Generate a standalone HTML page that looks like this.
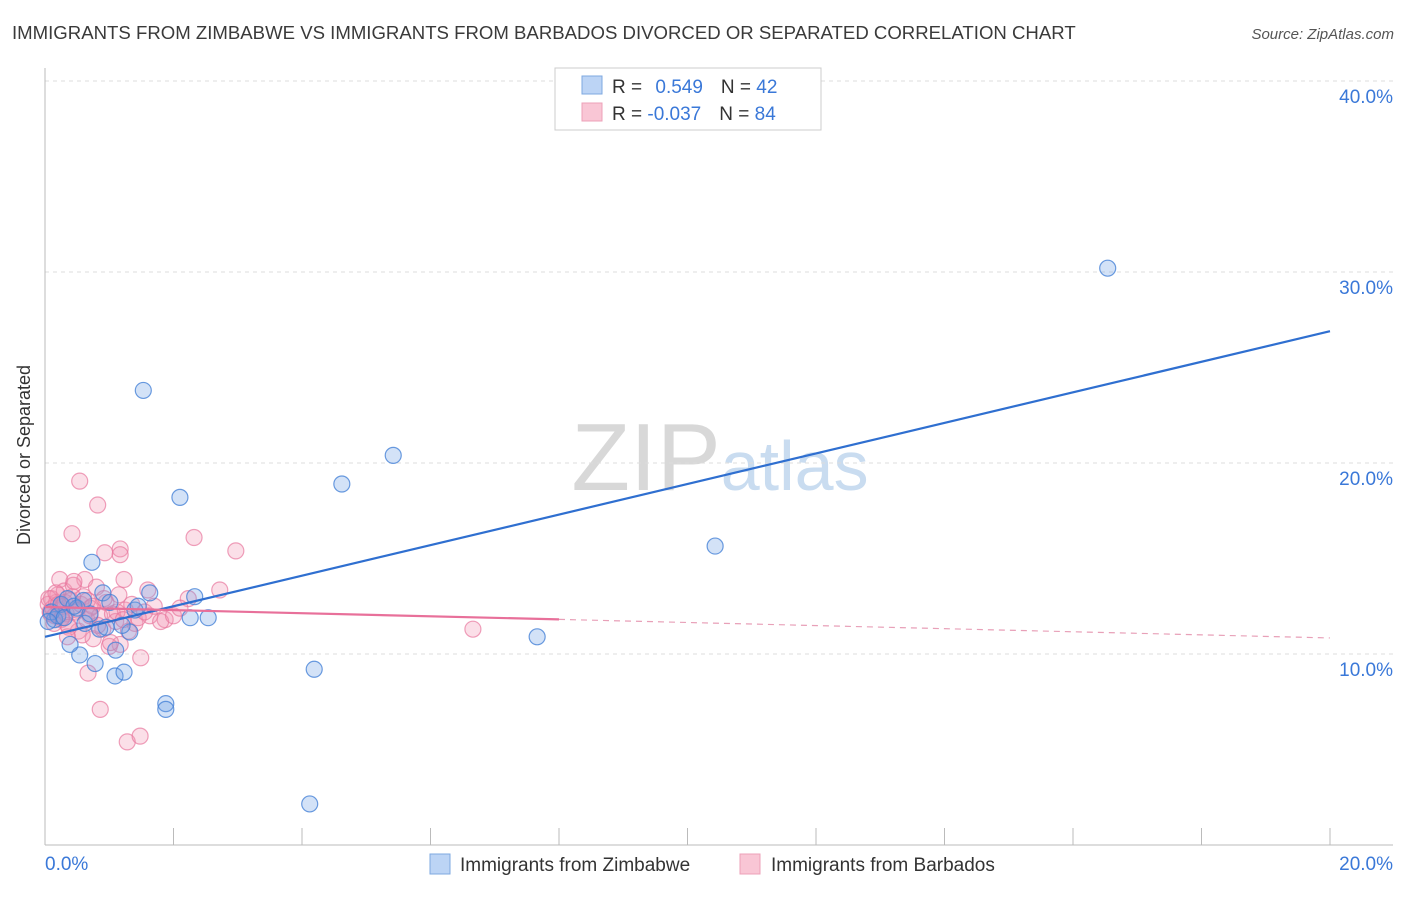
<!DOCTYPE html>
<html><head><meta charset="utf-8"><style>
body{margin:0;background:#fff;font-family:"Liberation Sans",sans-serif;}
svg text{font-family:"Liberation Sans",sans-serif;}
</style></head><body>
<svg width="1406" height="892">
<text x="12" y="39" font-size="18.6" fill="#3a3a3a">IMMIGRANTS FROM ZIMBABWE VS IMMIGRANTS FROM BARBADOS DIVORCED OR SEPARATED CORRELATION CHART</text>
<text x="1394" y="39" font-size="15" fill="#555" text-anchor="end" font-style="italic">Source: ZipAtlas.com</text>
<text x="720" y="490" font-size="96" fill="#ddd" text-anchor="middle" font-family="Liberation Serif"><tspan fill="#d8d8d8">ZIP</tspan><tspan fill="#c9dcf0" font-family="Liberation Sans" font-size="70">atlas</tspan></text>
<g id="grid"></g>
<line x1="45" y1="68" x2="45" y2="845" stroke="#bbb"/>
<line x1="45" y1="845" x2="1393" y2="845" stroke="#bbb"/>
<text x="30" y="455" font-size="18" fill="#333" text-anchor="middle" transform="rotate(-90 30 455)">Divorced or Separated</text>
<text x="45" y="870" font-size="19" fill="#3a78d8">0.0%</text>
<text x="1393" y="870" font-size="19" fill="#3a78d8" text-anchor="end">20.0%</text>
<g id="marks"></g>
<g>
<rect x="555" y="68" width="266" height="62" fill="#fff" stroke="#ccc"/>
<rect x="582" y="76" width="20" height="18" fill="#bcd4f5" stroke="#7ea8e0"/>
<rect x="582" y="103" width="20" height="18" fill="#f9c6d5" stroke="#eda0b8"/>
<text x="612" y="93" font-size="19" fill="#333">R = <tspan fill="#3a78d8" dx="8">0.549</tspan><tspan dx="18">N = </tspan><tspan fill="#3a78d8">42</tspan></text>
<text x="612" y="120" font-size="19" fill="#333">R = <tspan fill="#3a78d8">-0.037</tspan><tspan dx="18">N = </tspan><tspan fill="#3a78d8">84</tspan></text>
</g>
<g>
<rect x="430" y="854" width="20" height="20" fill="#bcd4f5" stroke="#7ea8e0"/>
<text x="460" y="871" font-size="19" fill="#333">Immigrants from Zimbabwe</text>
<rect x="740" y="854" width="20" height="20" fill="#f9c6d5" stroke="#eda0b8"/>
<text x="771" y="871" font-size="19" fill="#333">Immigrants from Barbados</text>
</g>
</svg>
<script>
const yTicks=[10,20,30,40];
const yTickLabels=["10.0%","20.0%","30.0%","40.0%"];
const xTicks=[0,2,4,6,8,10,12,14,16,18,20];
const blueX=[16.54,5.42,4.62,2.10,1.53,10.43,7.66,4.19,4.12,0.73,1.88,1.88,1.09,1.23,0.78,0.54,0.39,1.10,1.32,2.33,2.26,2.54,1.63,0.90,1.01,1.40,0.15,0.10,0.25,0.35,0.5,0.62,0.85,1.2,0.2,0.3,0.45,0.7,1.45,0.95,0.05,0.6];
const blueY=[30.2,20.4,18.9,18.2,23.8,15.65,10.9,9.2,2.15,14.8,7.4,7.1,8.85,9.05,9.5,9.95,10.5,10.2,11.15,13.0,11.9,11.9,13.2,13.2,12.7,12.3,11.8,12.2,12.6,12.9,12.4,11.6,11.3,11.5,12.0,11.9,12.5,12.1,12.5,11.4,11.7,12.8];
const pinkX=[0.54,0.82,0.42,2.32,2.97,1.17,0.93,1.17,6.66,1.28,1.48,0.86,0.67,1.49,1.17,2.72,1.60,1.23,0.62,0.23,2.23,1.87,1.63,1.4,0.05,0.08,0.1,0.12,0.15,0.18,0.2,0.22,0.25,0.28,0.3,0.33,0.36,0.4,0.44,0.48,0.52,0.56,0.6,0.65,0.7,0.75,0.8,0.85,0.9,0.95,1.0,1.05,1.1,1.15,1.25,1.3,1.35,1.45,1.55,1.7,1.8,2.0,2.1,0.06,0.09,0.14,0.17,0.21,0.26,0.31,0.37,0.43,0.5,0.58,0.66,0.74,0.82,0.92,1.02,1.12,1.22,0.35,0.45,0.7];
const pinkY=[19.05,17.8,16.3,16.1,15.4,15.5,15.3,15.2,11.3,5.4,5.7,7.1,9.0,9.8,10.5,13.35,13.35,13.9,13.9,13.9,12.9,11.8,12.0,11.6,12.6,12.2,12.9,12.4,12.0,12.7,13.1,12.3,11.8,12.5,13.3,12.1,11.5,12.8,13.6,12.2,11.2,12.6,13.0,11.8,12.4,10.8,13.5,12.0,11.3,12.7,10.4,12.1,11.7,13.1,12.3,11.2,12.6,11.9,12.2,12.5,11.7,12.0,12.4,12.9,12.1,11.6,13.2,12.6,11.9,12.7,11.4,13.0,12.3,11.0,12.8,12.5,11.5,12.9,10.6,12.2,11.8,10.9,13.8,12.0];
const blueLine=[10.9,26.9];
const pinkLine=[12.46,10.84];
const ns="http://www.w3.org/2000/svg";
const X=v=>45+v/20*1285, Y=v=>845-v*19.1;
const grid=document.getElementById('grid'), marks=document.getElementById('marks');
function mk(tag,attrs,parent){const e=document.createElementNS(ns,tag);for(const k in attrs)e.setAttribute(k,attrs[k]);parent.appendChild(e);return e;}
yTicks.forEach((t,i)=>{
 const l=mk('line',{x1:45,x2:1393,y1:Y(t),y2:Y(t),stroke:'#ddd','stroke-dasharray':'4,4'},grid);
 
 
 const tx=mk('text',{x:1393,y:Y(t)+22,'font-size':19,fill:'#3a78d8','text-anchor':'end'},grid);
 tx.textContent=yTickLabels[i];
 
 
});
xTicks.forEach(t=>{
 const l=mk('line',{x1:X(t),x2:X(t),y1:828,y2:845,stroke:'#bbb'},grid);
 
 
});
pinkX.forEach((v,i)=>{
 const c=mk('circle',{cx:X(v),cy:Y(pinkY[i]),r:8,fill:'rgba(242,150,180,0.3)',stroke:'rgba(232,120,158,0.7)','stroke-width':1.2},marks);
 
 
});
blueX.forEach((v,i)=>{
 const c=mk('circle',{cx:X(v),cy:Y(blueY[i]),r:8,fill:'rgba(110,160,230,0.3)',stroke:'rgba(70,130,215,0.8)','stroke-width':1.2},marks);
 
 
});
const bl=mk('line',{x1:X(0),y1:Y(blueLine[0]),x2:X(20),y2:Y(blueLine[1]),stroke:'#2f6fd0','stroke-width':2.2},marks);


const pm=pinkLine[0]+(pinkLine[1]-pinkLine[0])*0.4;
const pl=mk('line',{x1:X(0),y1:Y(pinkLine[0]),x2:X(8),y2:Y(pm),stroke:'#e8709a','stroke-width':2.2},marks);


const pd=mk('line',{x1:X(8),y1:Y(pm),x2:X(20),y2:Y(pinkLine[1]),stroke:'#e8a0b8','stroke-width':1.2,'stroke-dasharray':'6,5'},marks);


</script>
</body></html>
